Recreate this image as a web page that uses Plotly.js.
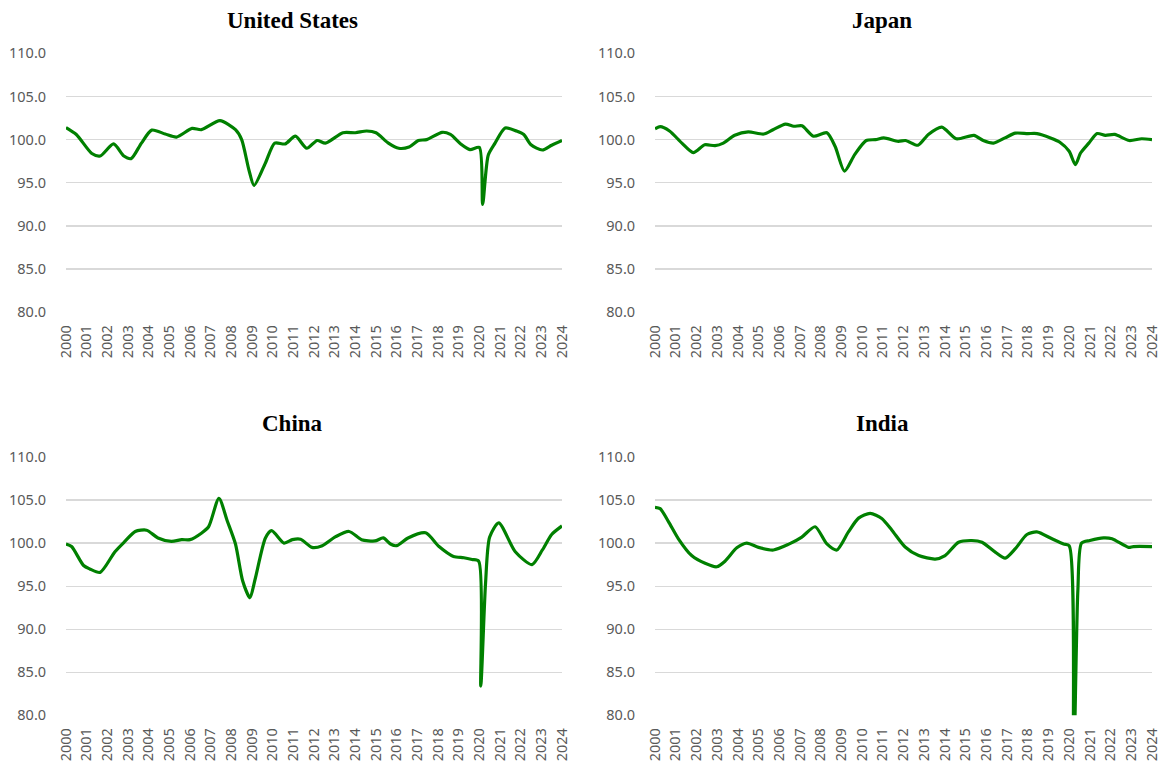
<!DOCTYPE html>
<html>
<head>
<meta charset="utf-8">
<script src="https://cdn.plot.ly/plotly-3.0.1.min.js"></script>
<style>
  html, body { margin: 0; padding: 0; background: #ffffff; }
  #chart { width: 1161px; height: 763px; }
</style>
</head>
<body>
<div id="chart"></div>
<script>
// ---- Data (x in decimal years) ----
const countries = ["United States", "Japan", "China", "India"];

const usYears = [2000.0, 2000.5, 2001.25, 2001.65, 2002.3, 2002.8, 2003.15, 2003.65, 2004.15, 2004.8, 2005.35, 2006.1, 2006.55, 2007.45, 2008.2, 2008.5, 2008.85, 2009.1, 2009.65, 2010.1, 2010.6, 2011.1, 2011.65, 2012.15, 2012.55, 2013.4, 2014.0, 2014.55, 2015.0, 2015.6, 2016.1, 2016.6, 2017.05, 2017.45, 2018.2, 2018.6, 2019.1, 2019.55, 2020.0, 2020.16, 2020.43, 2020.76, 2021.25, 2021.8, 2022.15, 2022.5, 2023.05, 2023.5, 2024.0];
const usValues = [101.4, 100.6, 98.4, 98.1, 99.5, 98.1, 97.8, 99.6, 101.1, 100.65, 100.3, 101.3, 101.15, 102.2, 101.15, 100.0, 96.5, 94.7, 97.3, 99.6, 99.5, 100.4, 99.0, 99.9, 99.6, 100.8, 100.8, 101.0, 100.8, 99.6, 99.0, 99.15, 99.9, 100.0, 100.85, 100.6, 99.5, 98.85, 99.1, 92.5, 98.2, 99.6, 101.35, 101.0, 100.6, 99.4, 98.8, 99.35, 99.9];

const jpYears = [2000.0, 2000.25, 2000.7, 2001.3, 2001.85, 2002.4, 2002.9, 2003.3, 2003.85, 2004.5, 2005.25, 2005.7, 2006.3, 2006.7, 2007.1, 2007.65, 2008.3, 2008.7, 2009.15, 2009.65, 2010.2, 2010.65, 2011.05, 2011.75, 2012.1, 2012.7, 2013.2, 2013.85, 2014.55, 2015.4, 2015.85, 2016.35, 2016.9, 2017.4, 2018.0, 2018.45, 2019.1, 2019.55, 2020.0, 2020.3, 2020.55, 2020.95, 2021.35, 2021.75, 2022.2, 2022.9, 2023.5, 2024.0];
const jpValues = [101.25, 101.5, 101.0, 99.6, 98.5, 99.4, 99.3, 99.6, 100.5, 100.9, 100.65, 101.15, 101.8, 101.55, 101.6, 100.4, 100.8, 99.2, 96.35, 98.3, 99.9, 100.0, 100.2, 99.8, 99.9, 99.35, 100.6, 101.45, 100.1, 100.5, 99.9, 99.6, 100.2, 100.75, 100.7, 100.7, 100.2, 99.7, 98.65, 97.1, 98.45, 99.6, 100.7, 100.5, 100.6, 99.9, 100.1, 100.0];

const cnYears = [2000.0, 2000.27, 2000.85, 2001.15, 2001.65, 2002.37, 2002.85, 2003.35, 2003.9, 2004.45, 2005.1, 2005.6, 2006.0, 2006.55, 2006.9, 2007.4, 2007.8, 2008.2, 2008.55, 2008.9, 2009.15, 2009.65, 2009.95, 2010.55, 2010.95, 2011.35, 2011.9, 2012.4, 2013.05, 2013.7, 2014.3, 2014.95, 2015.35, 2015.7, 2016.0, 2016.55, 2017.4, 2018.05, 2018.75, 2019.25, 2019.65, 2019.97, 2020.07, 2020.3, 2020.5, 2020.94, 2021.74, 2022.55, 2023.05, 2023.5, 2024.0];
const cnValues = [99.9, 99.6, 97.4, 97.0, 96.6, 99.0, 100.2, 101.35, 101.5, 100.6, 100.2, 100.4, 100.4, 101.15, 101.9, 105.2, 102.6, 99.9, 95.6, 93.65, 95.8, 100.6, 101.45, 100.0, 100.4, 100.45, 99.5, 99.7, 100.75, 101.35, 100.4, 100.25, 100.6, 99.9, 99.7, 100.6, 101.2, 99.6, 98.45, 98.3, 98.1, 97.9, 83.4, 95.3, 100.7, 102.35, 99.0, 97.5, 99.2, 101.0, 102.0];

const inYears = [2000.0, 2000.25, 2000.65, 2001.13, 2001.77, 2002.42, 2002.98, 2003.38, 2003.95, 2004.43, 2005.0, 2005.72, 2006.44, 2007.09, 2007.73, 2008.3, 2008.78, 2009.34, 2009.83, 2010.39, 2010.95, 2011.44, 2012.08, 2012.73, 2013.53, 2014.01, 2014.66, 2015.3, 2015.79, 2016.43, 2016.91, 2017.4, 2017.96, 2018.44, 2019.17, 2019.73, 2020.0, 2020.2, 2020.42, 2020.6, 2021.0, 2021.66, 2022.07, 2022.87, 2023.1, 2024.0];
const inValues = [104.15, 104.0, 102.5, 100.5, 98.55, 97.65, 97.25, 97.9, 99.45, 100.0, 99.5, 99.2, 99.85, 100.7, 101.9, 99.9, 99.2, 101.3, 102.9, 103.45, 102.85, 101.5, 99.55, 98.55, 98.15, 98.55, 100.1, 100.3, 100.1, 98.95, 98.25, 99.35, 101.0, 101.3, 100.5, 99.9, 99.7, 72.0, 94.5, 100.0, 100.3, 100.6, 100.5, 99.5, 99.6, 99.6];

const yearTicks = [2000, 2001, 2002, 2003, 2004, 2005, 2006, 2007, 2008, 2009, 2010, 2011, 2012, 2013, 2014, 2015, 2016, 2017, 2018, 2019, 2020, 2021, 2022, 2023, 2024];
const yearLabels = yearTicks.map(String);
const valueTicks = [80, 85, 90, 95, 100, 105, 110];

// ---- Build chart ----
const seriesX = [usYears, jpYears, cnYears, inYears];
const seriesY = [usValues, jpValues, cnValues, inValues];
const lineColor = "#008000";

const traces = seriesX.map((xs, i) => ({
  type: "scatter",
  mode: "lines",
  x: xs,
  y: seriesY[i],
  name: countries[i],
  xaxis: i === 0 ? "x" : "x" + (i + 1),
  yaxis: i === 0 ? "y" : "y" + (i + 1),
  line: { color: lineColor, width: 3.2, shape: "spline", smoothing: 0.7 },
  hoverinfo: "x+y",
  showlegend: false
}));

const W = 1161, H = 763;
const xDomains = [[66 / W, 562 / W], [655 / W, 1152 / W], [66 / W, 562 / W], [655 / W, 1152 / W]];
const yDomains = [[1 - 312.3 / H, 1 - 53.3 / H], [1 - 312.3 / H, 1 - 53.3 / H],
                  [1 - 715.3 / H, 1 - 457 / H], [1 - 715.3 / H, 1 - 457 / H]];

const tickFont = { family: "Noto Sans, DejaVu Sans, sans-serif", size: 14.5, color: "#595959" };

const layout = {
  width: W, height: H,
  margin: { l: 0, r: 0, t: 0, b: 0 },
  paper_bgcolor: "#ffffff",
  plot_bgcolor: "#ffffff",
  showlegend: false,
  annotations: [],
};

for (let i = 0; i < 4; i++) {
  const sx = i === 0 ? "" : String(i + 1);
  layout["xaxis" + sx] = {
    domain: xDomains[i],
    anchor: "y" + sx,
    range: [2000, 2024],
    tickmode: "array",
    tickvals: yearTicks,
    ticktext: yearLabels,
    tickangle: -90,
    tickfont: tickFont,
    ticks: "outside",
    ticklen: 6,
    tickcolor: "rgba(0,0,0,0)",
    showgrid: false,
    zeroline: false,
    showline: false,
    fixedrange: true
  };
  layout["yaxis" + sx] = {
    domain: yDomains[i],
    anchor: "x" + sx,
    range: [80, 110],
    tickmode: "array",
    tickvals: valueTicks,
    tickformat: ".1f",
    tickfont: tickFont,
    ticks: "outside",
    ticklen: 16,
    tickcolor: "rgba(0,0,0,0)",
    showgrid: true,
    gridcolor: "#d9d9d9",
    gridwidth: 1.3,
    zeroline: false,
    showline: false,
    fixedrange: true
  };
}

const titleX = [292 / W, 882 / W, 292 / W, 882 / W];
const titleY = [1 - 20 / H, 1 - 20 / H, 1 - 423 / H, 1 - 423 / H];
countries.forEach((c, i) => {
  layout.annotations.push({
    text: "<b>" + c + "</b>",
    xref: "paper", yref: "paper",
    x: titleX[i], y: titleY[i],
    xanchor: "center", yanchor: "middle",
    showarrow: false,
    font: { family: "Liberation Serif, DejaVu Serif, serif", size: 23, color: "#000000" }
  });
});

Plotly.newPlot("chart", traces, layout, { displayModeBar: false, staticPlot: true });
</script>
</body>
</html>
